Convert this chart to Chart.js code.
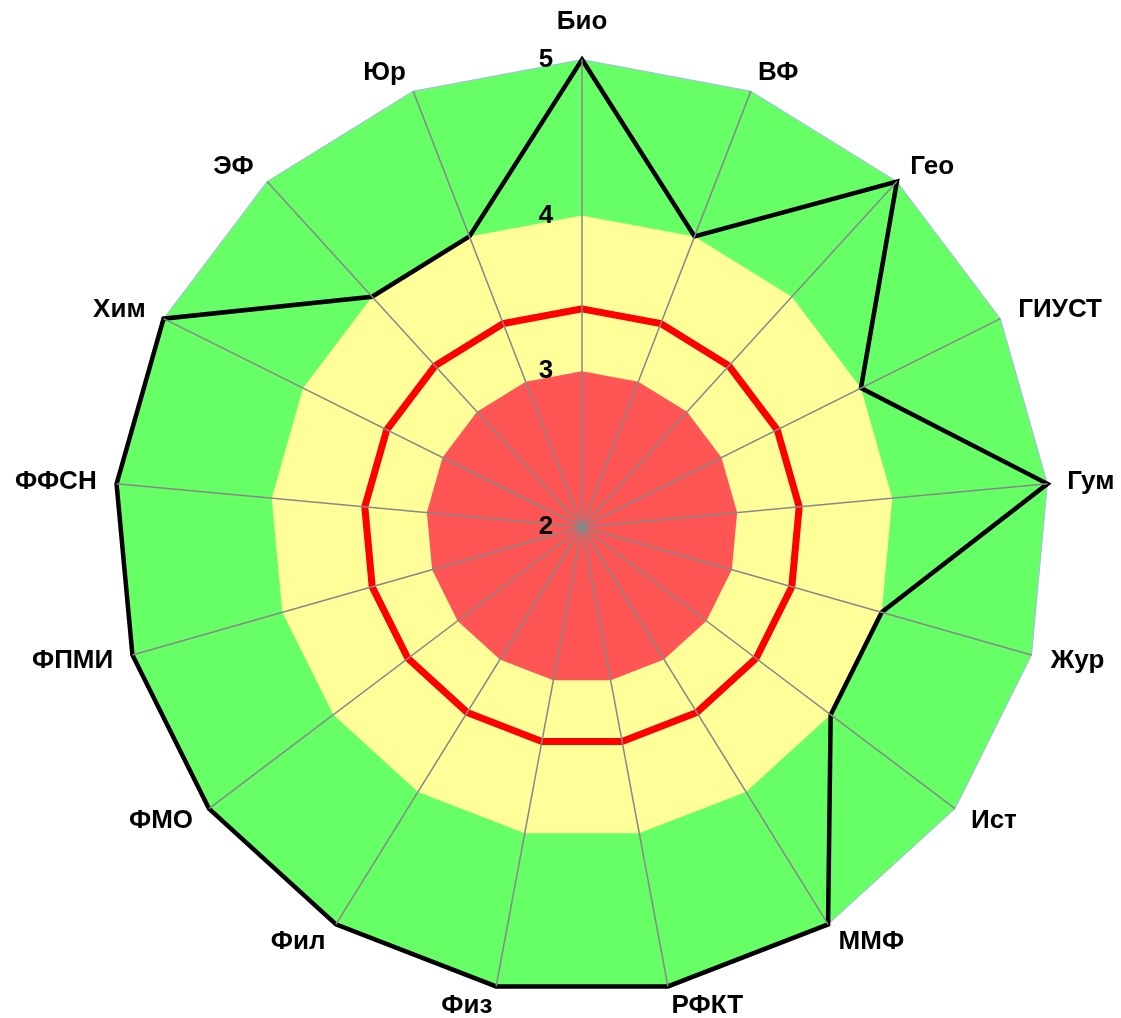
<!DOCTYPE html>
<html>
<head>
<meta charset="utf-8">
<script src="https://cdn.jsdelivr.net/npm/chart.js@4/dist/chart.umd.min.js"></script>
<style>
html,body{margin:0;padding:0;background:#fff;overflow:hidden;width:1121px;height:1018px;}
#wrap{position:absolute;left:2px;top:7px;width:1134px;height:1018px;}
</style>
</head>
<body>
<div id="wrap"><canvas id="c"></canvas></div>
<script>
const categories = ['Био','ВФ','Гео','ГИУСТ','Гум','Жур','Ист','ММФ','РФКТ','Физ','Фил','ФМО','ФПМИ','ФФСН','Хим','ЭФ','Юр'];
const scores   = [5,4,5,4,5,4,4,5,5,5,5,5,5,5,5,4,4];
const average  = [3.4,3.4,3.4,3.4,3.4,3.4,3.4,3.4,3.4,3.4,3.4,3.4,3.4,3.4,3.4,3.4,3.4];
const bandHigh = [5,5,5,5,5,5,5,5,5,5,5,5,5,5,5,5,5];
const bandMid  = [4,4,4,4,4,4,4,4,4,4,4,4,4,4,4,4,4];
const bandLow  = [3,3,3,3,3,3,3,3,3,3,3,3,3,3,3,3,3];
const tickValues = [2,3,4,5];

const FONT = "'Liberation Sans', Arial, sans-serif";

new Chart(document.getElementById('c'), {
  type: 'radar',
  data: {
    labels: categories,
    datasets: [
      {data: scores, borderColor:'#000', borderWidth:4.5, fill:false, pointRadius:0, order:0},
      {data: average, borderColor:'#ff0000', borderWidth:7, fill:false, pointRadius:0, order:1},
      {data: bandLow, borderWidth:0, borderColor:'rgba(0,0,0,0)', backgroundColor:'#ff5555', fill:'origin', pointRadius:0, order:2},
      {data: bandMid, borderWidth:0, borderColor:'rgba(0,0,0,0)', backgroundColor:'#ffff99', fill:'origin', pointRadius:0, order:3},
      {data: bandHigh, borderWidth:1, borderColor:'#aab4f0', backgroundColor:'#66ff66', fill:'origin', pointRadius:0, order:4}
    ]
  },
  options: {
    responsive: true,
    maintainAspectRatio: false,
    animation: false,
    plugins: {legend:{display:false}, tooltip:{enabled:false}},
    elements: {line:{tension:0, borderJoinStyle:'miter'}},
    layout: {padding: 0},
    scales: {
      r: {
        min: 2, max: 5,
        afterBuildTicks: (s) => { s.ticks = [{value: tickValues[0]}].concat(tickValues.map(v => ({value: v}))); },
        grid: {display:false, z:1},
        angleLines: {display:true, color:'#888888', lineWidth:1.5},
        ticks: {
          z: 2,
          showLabelBackdrop:false,
          color:'#000',
          font:{family:FONT, size:26, weight:'bold'},
          callback: (v) => String(v) + '          '
        },
        pointLabels: {
          color:'#000',
          font:{family:FONT, size:26, weight:'bold', lineHeight:0},
          padding: (ctx) => ctx.index === 0 ? 23 : 5
        }
      }
    }
  }
});
</script>
</body>
</html>
